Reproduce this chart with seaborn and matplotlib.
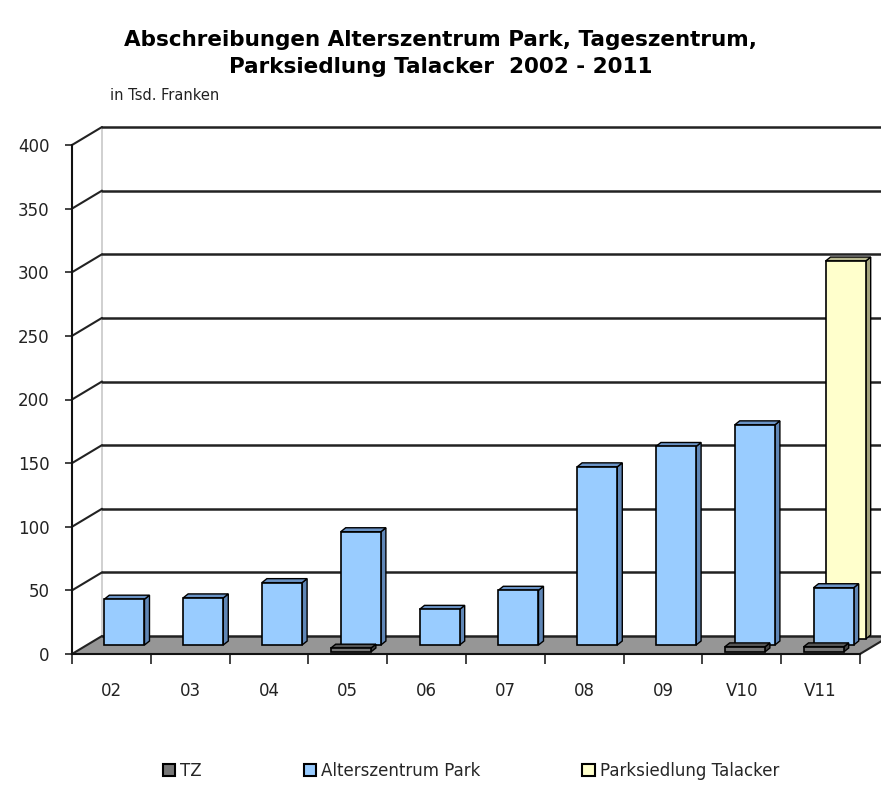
import matplotlib
matplotlib.use("Agg")
import matplotlib.pyplot as plt
from matplotlib.patches import Polygon, Patch
import seaborn as sns

# data (Tsd. Franken)
years = ["02", "03", "04", "05", "06", "07", "08", "09", "V10", "V11"]
tz = [0, 0, 0, 3, 0, 0, 0, 0, 4, 4]
alterszentrum = [36, 37, 49, 89, 28, 43, 140, 156, 173, 45]
parksiedlung = [0, 0, 0, 0, 0, 0, 0, 0, 0, 297]
series_names = ["TZ", "Alterszentrum Park", "Parksiedlung Talacker"]
y_ticks = [0, 50, 100, 150, 200, 250, 300, 350, 400]

sns.set_theme(style="white")
plt.rcParams["font.family"] = ["DejaVu Sans"]

fig = plt.figure(figsize=(8.81, 8.01), dpi=100)
ax = fig.add_axes([72 / 881, 1 - 654 / 801, 788 / 881, 509 / 801])

# pixel -> data unit helpers for the fake 3d depth
XU = 10 / 788
YU = 400 / 509
DX, DY = 30 * XU, 18 * YU          # full depth of floor / walls
BX, BY = 5 * XU, 4 * YU            # depth of one bar

# floor and walls
floor = Polygon([(-0.5, 0), (9.5, 0), (9.5 + DX, DY), (-0.5 + DX, DY)],
                closed=True, facecolor="#969696", edgecolor="none",
                zorder=0.5, clip_on=False)
ax.add_patch(floor)
ax.plot([9.5, 9.5 + DX], [0, DY], color="#222222", lw=1.5, zorder=0.6, clip_on=False)
ax.plot([-0.5 + DX, -0.5 + DX], [DY, 400 + DY], color="#c8c8c8", lw=1.2,
        zorder=0.6, clip_on=False)
for v in y_ticks:
    ax.plot([-0.5 + DX, 10.2 + DX], [v + DY, v + DY], color="#222222", lw=1.8,
            zorder=0.7, clip_on=False)
    ax.plot([-0.5, -0.5 + DX], [v, v + DY], color="#222222", lw=1.5,
            zorder=0.7, clip_on=False)

# series drawn back to front: (values, face, top, side, row offset px)
rows = [
    (parksiedlung, "#FFFFCC", "#B8B890", "#A3A37C", (25, 15), 2),
    (alterszentrum, "#99CCFF", "#6A93C6", "#5F86B6", (13, 9), 4),
    (tz, "#777777", "#555555", "#444444", (3, 2), 6),
]

for vals, face, top, side, (ox, oy), z in rows:
    n0 = len(ax.patches)
    sns.barplot(x=years, y=vals, color=face, saturation=1, width=0.51,
                edgecolor="black", linewidth=1.2, ax=ax, zorder=z)
    dx, dy = ox * XU, oy * YU
    for p in ax.patches[n0:]:
        h = p.get_height()
        if not h or h <= 0:
            p.set_visible(False)
            continue
        x0 = p.get_x() + dx
        w = p.get_width()
        p.set_x(x0)
        p.set_y(dy)
        p.set_clip_on(False)
        ax.add_patch(Polygon([(x0 + w, dy), (x0 + w + BX, dy + BY),
                              (x0 + w + BX, dy + h + BY), (x0 + w, dy + h)],
                             closed=True, facecolor=side, edgecolor="black",
                             lw=1.0, zorder=z - 0.5, clip_on=False))
        ax.add_patch(Polygon([(x0, dy + h), (x0 + BX, dy + h + BY),
                              (x0 + w + BX, dy + h + BY), (x0 + w, dy + h)],
                             closed=True, facecolor=top, edgecolor="black",
                             lw=1.0, zorder=z - 0.5, clip_on=False))

ax.set_xlim(-0.5, 9.5)
ax.set_ylim(0, 400)
ax.set_yticks(y_ticks)
ax.set_xticks(range(len(years)))
ax.set_xticklabels(years)
ax.set_xticks([i - 0.5 for i in range(len(years) + 1)], minor=True)
ax.set_xlabel("")
ax.set_ylabel("")
ax.set_facecolor("none")
for s in ["top", "right"]:
    ax.spines[s].set_visible(False)
for s in ["left", "bottom"]:
    ax.spines[s].set_color("#111111")
    ax.spines[s].set_linewidth(1.5)
    ax.spines[s].set_zorder(8)
ax.tick_params(axis="x", which="major", length=0, pad=20, labelsize=12,
               labelcolor="#222222")
ax.tick_params(axis="x", which="minor", length=7, width=1.2, color="#222222",
               direction="out", bottom=True)
ax.tick_params(axis="y", length=5, width=1.2, color="#222222", direction="out",
               left=True, pad=11, labelsize=12, labelcolor="#222222")

# titles
fig.text(0.5, 1 - 40 / 801, "Abschreibungen Alterszentrum Park, Tageszentrum,",
         ha="center", va="center", fontsize=15.5, fontweight="bold", color="black")
fig.text(0.5, 1 - 67 / 801, "Parksiedlung Talacker  2002 - 2011",
         ha="center", va="center", fontsize=15.5, fontweight="bold", color="black")
fig.text(110 / 881, 1 - 96 / 801, "in Tsd. Franken", ha="left", va="center",
         fontsize=10.5, color="#222222")

# legend
handles = [Patch(facecolor=c, edgecolor="black", lw=1.5)
           for c in ["#777777", "#99CCFF", "#FFFFCC"]]
fig.legend(handles, series_names, loc="center", ncol=3,
           bbox_to_anchor=(471 / 881, 1 - 771 / 801), frameon=False,
           fontsize=12, handlelength=0.75, handleheight=0.75, handletextpad=0.3,
           columnspacing=6.1)

fig.savefig("out.png", dpi=100)
